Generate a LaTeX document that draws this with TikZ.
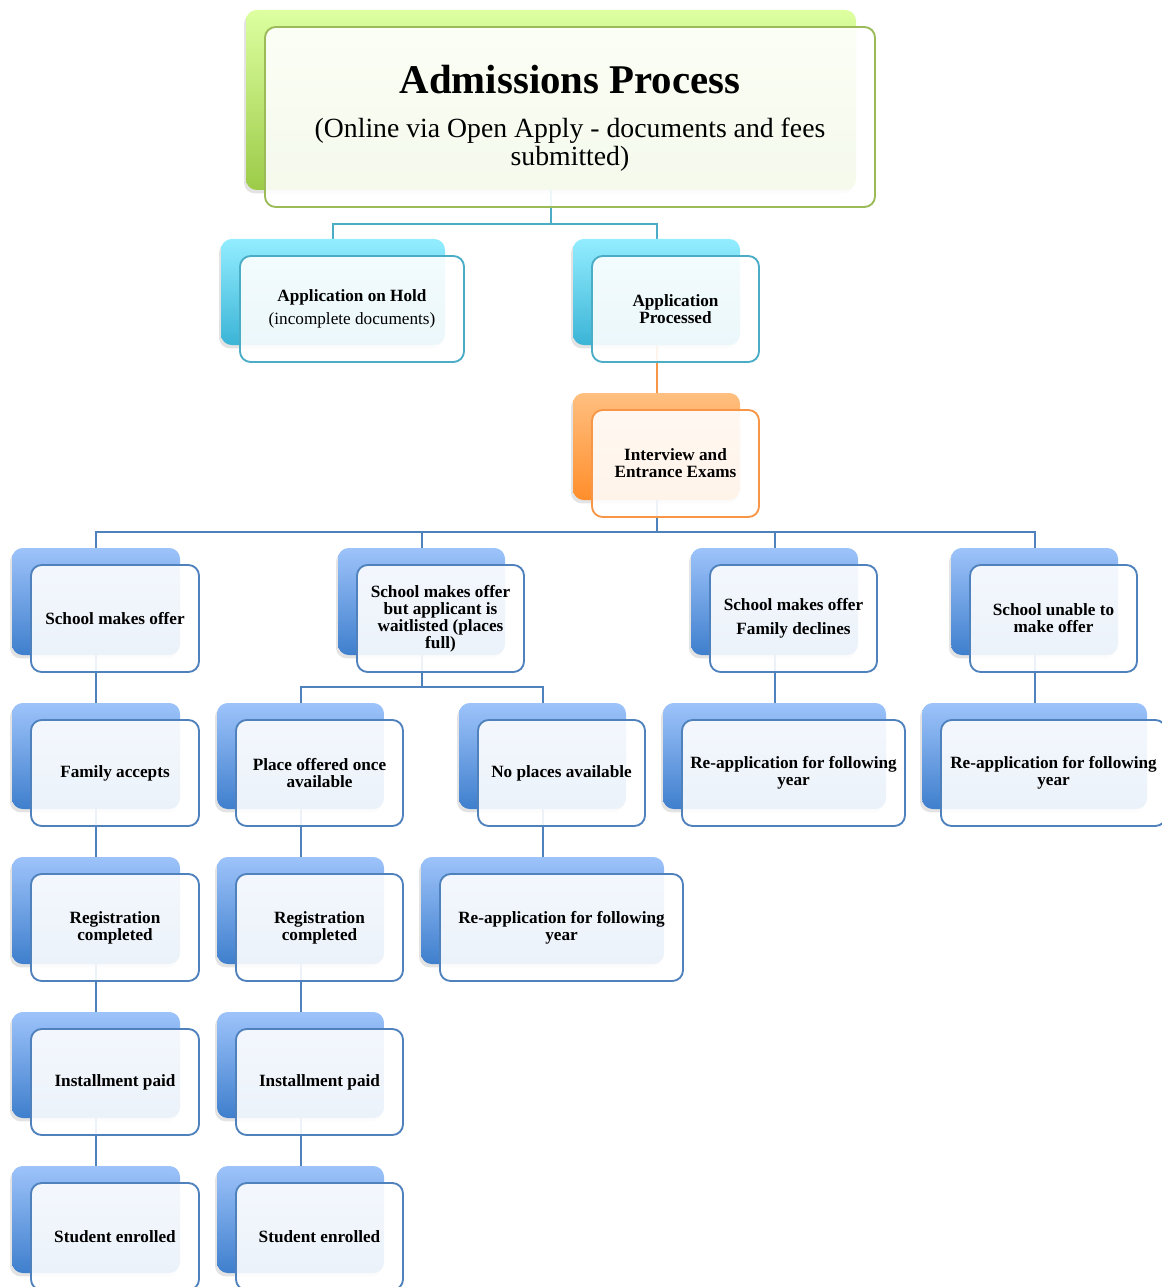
\documentclass[tikz,border=0pt]{standalone}
\usepackage{fontspec}
\setmainfont{Liberation Serif}
\usetikzlibrary{shadows}
\pgfdeclarelayer{bg}
\pgfsetlayers{bg,main}
\definecolor{bTop}{HTML}{9DC3FA}
\definecolor{bBot}{HTML}{3F7FCD}
\definecolor{bLine}{HTML}{4F81BD}
\definecolor{cTop}{HTML}{93EDFF}
\definecolor{cBot}{HTML}{3BB4D6}
\definecolor{cLine}{HTML}{4BACC6}
\definecolor{gTop}{HTML}{DDFFA0}
\definecolor{gBot}{HTML}{9CCB48}
\definecolor{gLine}{HTML}{9BBB59}
\definecolor{oTop}{HTML}{FFBF80}
\definecolor{oBot}{HTML}{FF8E2B}
\definecolor{oLine}{HTML}{F79646}
\tikzset{
  backbox/.style={rectangle, rounded corners=8pt, inner sep=0pt, outer sep=0pt,
    drop shadow={shadow xshift=-1.5pt, shadow yshift=-2.5pt, opacity=0.22}},
  frontbox/.style={rectangle, rounded corners=8pt, inner sep=0pt, outer sep=0pt,
    fill=white, fill opacity=0.9, text opacity=1, line width=1.4pt, align=center,
    font=\fontsize{12.9}{12.75}\selectfont\bfseries},
  backB/.style={backbox, top color=bTop, bottom color=bBot},
  backC/.style={backbox, top color=cTop, bottom color=cBot},
  backG/.style={backbox, top color=gTop, bottom color=gBot},
  backO/.style={backbox, top color=oTop, bottom color=oBot},
  frontB/.style={frontbox, draw=bLine},
  frontC/.style={frontbox, draw=cLine},
  frontG/.style={frontbox, draw=gLine},
  frontO/.style={frontbox, draw=oLine},
  conn/.style={line width=1.5pt},
}
% name, x1, y1, x2, y2 (back box, pixels), scheme, text
\newcommand\dbox[7]{%
  \node[back#6, minimum width={(#4-#2)*0.75pt}, minimum height={(#5-#3)*0.75pt}]
    (#1) at ({(#2+#4)/2},{(#3+#5)/2}) {};
  \node[front#6, minimum width={(#4-#2)*0.75pt}, minimum height={(#5-#3)*0.75pt}]
    (#1f) at ({(#2+#4)/2+19},{(#3+#5)/2+17}) {#7};
}
\begin{document}
\begin{tikzpicture}[x=0.75pt, y=-0.75pt]
\useasboundingbox (0,0) rectangle (1162,1287);

\dbox{top}{246}{10}{856}{190}{G}{}
\node[font=\fontsize{30.6}{32}\selectfont\bfseries] (title) at (570,80) {Admissions Process};
\node[font=\fontsize{20.8}{21}\selectfont, align=center] (sub) at (570,145)
  {(Online via Open Apply - documents and fees\\submitted)};

\dbox{hold}{221}{239}{445}{345}{C}{Application on Hold\\[4pt]{\mdseries\fontsize{12.9}{12.75}\selectfont (incomplete documents)}}
\dbox{proc}{573}{239}{740}{345}{C}{Application\\Processed}
\dbox{intv}{573}{393}{740}{500}{O}{Interview and\\Entrance Exams}

\dbox{offer}{12}{548}{180}{655}{B}{School makes offer}
\dbox{wait}{338}{548}{505}{655}{B}{School makes offer\\but applicant is\\waitlisted (places\\full)}
\dbox{decl}{691}{548}{858}{655}{B}{School makes offer\\[5pt]Family declines}
\dbox{unab}{951}{548}{1118}{655}{B}{School unable to\\make offer}

\dbox{acc}{12}{703}{180}{809}{B}{Family accepts}
\dbox{place}{217}{703}{384}{809}{B}{Place offered once\\available}
\dbox{nopl}{459}{703}{626}{809}{B}{No places available}
\dbox{reA}{663}{703}{886}{809}{B}{Re-application for following\\year}
\dbox{reB}{922}{703}{1147}{809}{B}{Re-application for following\\year}

\dbox{regA}{12}{857}{180}{964}{B}{Registration\\completed}
\dbox{regB}{217}{857}{384}{964}{B}{Registration\\completed}
\dbox{reC}{421}{857}{664}{964}{B}{Re-application for following\\year}

\dbox{instA}{12}{1012}{180}{1118}{B}{Installment paid}
\dbox{instB}{217}{1012}{384}{1118}{B}{Installment paid}

\dbox{enrA}{12}{1166}{180}{1273}{B}{Student enrolled}
\dbox{enrB}{217}{1166}{384}{1273}{B}{Student enrolled}

\coordinate (bus1) at (551,224);
\coordinate (bus2) at (656.5,532);
\coordinate (bus3) at (421.5,687);

\begin{pgfonlayer}{bg}
\draw[conn, draw=cLine] (top) -- (bus1) -| (hold);
\draw[conn, draw=cLine] (bus1) -| (proc);
\draw[conn, draw=oLine] (proc) -- (intv);
\draw[conn, draw=bLine] (intv) -- (bus2) -| (offer);
\draw[conn, draw=bLine] (bus2) -| (wait);
\draw[conn, draw=bLine] (bus2) -| (decl);
\draw[conn, draw=bLine] (bus2) -| (unab);
\draw[conn, draw=bLine] (wait) -- (bus3) -| (place);
\draw[conn, draw=bLine] (bus3) -| (nopl);
\draw[conn, draw=bLine] (offer) -- (acc);
\draw[conn, draw=bLine] (acc) -- (regA);
\draw[conn, draw=bLine] (regA) -- (instA);
\draw[conn, draw=bLine] (instA) -- (enrA);
\draw[conn, draw=bLine] (place) -- (regB);
\draw[conn, draw=bLine] (regB) -- (instB);
\draw[conn, draw=bLine] (instB) -- (enrB);
\draw[conn, draw=bLine] (nopl) -- (reC);
\draw[conn, draw=bLine] (decl) -- (reA);
\draw[conn, draw=bLine] (unab) -- (reB);
\end{pgfonlayer}
\end{tikzpicture}
\end{document}
